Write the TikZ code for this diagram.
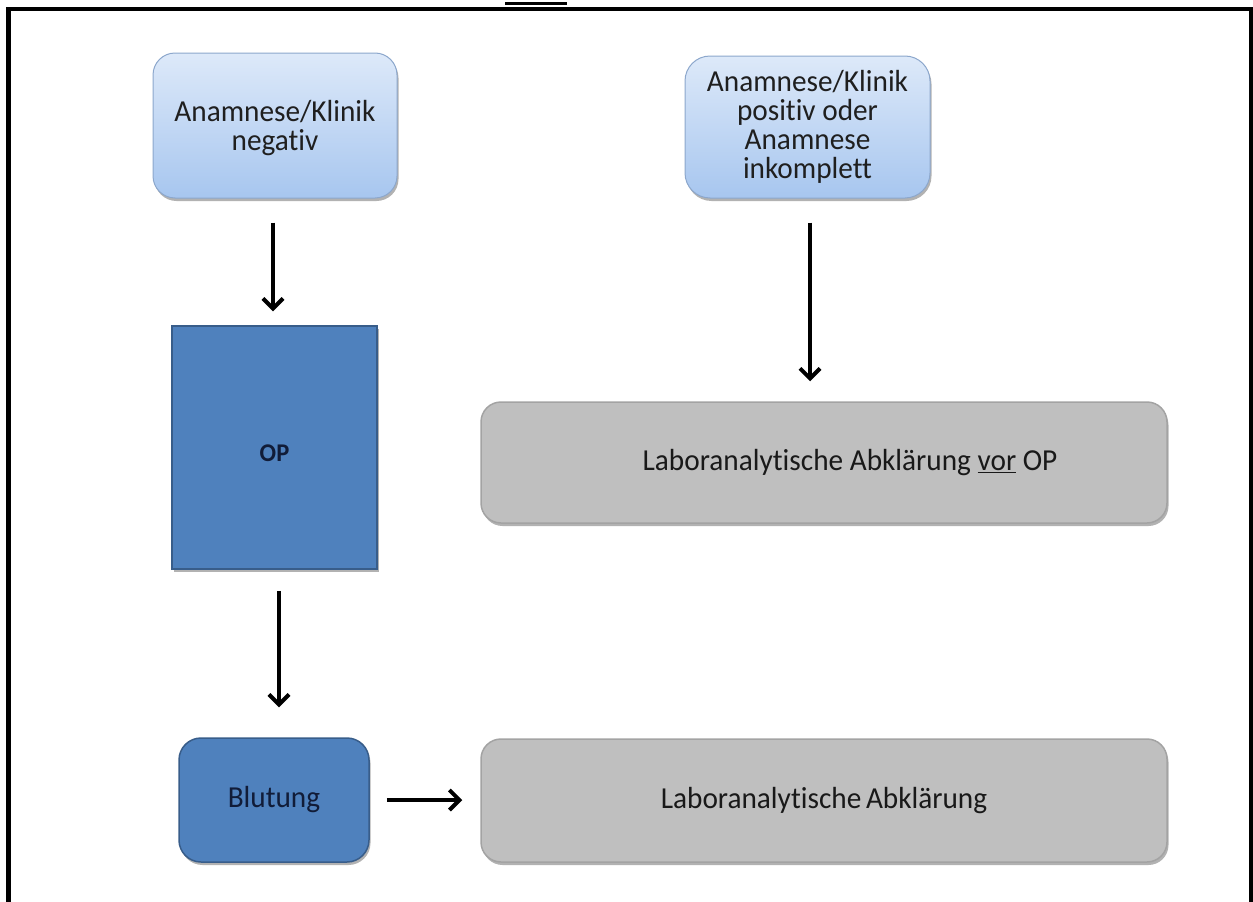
\documentclass[tikz,border=0pt]{standalone}
\usepackage{fontspec}
\setmainfont{Carlito}[Ligatures=NoCommon,FakeStretch=0.96]
\usetikzlibrary{arrows.meta,shadows}
\definecolor{boxblue}{HTML}{4F81BD}
\definecolor{boxblueline}{HTML}{385D8A}
\definecolor{lighttop}{HTML}{DDE9F9}
\definecolor{lightbot}{HTML}{A7C6EF}
\definecolor{lightline}{HTML}{8CA7CC}
\definecolor{grayfill}{HTML}{BFBFBF}
\definecolor{grayline}{HTML}{A3A3A3}
\definecolor{navytext}{HTML}{111C38}
\begin{document}
\begin{tikzpicture}[x=1pt,y=-1pt,
  shadowed/.style={drop shadow={shadow xshift=1.5pt,shadow yshift=-3pt,opacity=0.3,fill=black}},
  lightbox/.style={shadowed,draw=lightline,line width=1pt,rounded corners=22pt,
    top color=lighttop,bottom color=lightbot,inner sep=0pt,align=center,
    text=black!88,font=\fontsize{30.5}{29}\selectfont},
  bluebox/.style={shadowed,draw=boxblueline,line width=1.5pt,fill=boxblue,inner sep=0pt,
    align=center,text=navytext},
  graybox/.style={shadowed,draw=grayline,line width=1.5pt,fill=grayfill,rounded corners=20pt,
    inner sep=0pt,minimum width=686pt,text=black!90,font=\fontsize{30.5}{29}\selectfont},
  arr/.style={-{Straight Barb[length=10pt,width=20pt,line width=4pt]},line width=4pt,black}
]
\useasboundingbox (0,0) rectangle (1253,902);
% frame
\draw[line width=4.5pt] (8.5,902) -- (8.5,9) -- (1251,9) -- (1251,902);
\draw[line width=3pt] (505,3) -- (567,3);
% nodes
\node[lightbox,minimum width=244pt,minimum height=145pt] (A) at (275,125.5)
  {\rule{0pt}{27pt}Anamnese/Klinik\\negativ};
\node[lightbox,rounded corners=25pt,minimum width=245pt,minimum height=142pt] (B) at (807.5,127)
  {Anamnese/Klinik\\positiv oder\\Anamnese\\inkomplett};
\node[bluebox,minimum width=205pt,minimum height=243pt,font=\bfseries\fontsize{25.5}{25}\selectfont] (OP) at (274.5,447.5) {\rule{0pt}{28pt}OP};
\node[bluebox,rounded corners=22pt,minimum width=190pt,minimum height=124pt,font=\fontsize{30.5}{29}\selectfont] (BL) at (274,800) {Blutung};
\node[graybox,minimum height=121pt] (G1) at (824,462.5)
  {\hspace*{52pt}Laboranalytische Abklärung \underline{vor} OP};
\node[graybox,minimum height=123pt] (G2) at (824,800.5)
  {Laboranalytische\hspace{-2pt} Abklärung};
% arrows
\draw[arr,shorten <=24pt,shorten >=14pt] ([xshift=-2pt]A.south) -- ([xshift=-1.5pt]OP.north);
\draw[arr,shorten <=24pt,shorten >=20pt] ([xshift=2.5pt]B.south) -- ([xshift=2.5pt]B.south |- G1.north);
\draw[arr,shorten <=21pt,shorten >=30pt] ([xshift=4.5pt]OP.south) -- ([xshift=5pt]BL.north);
\draw[arr,shorten <=17pt,shorten >=18pt] (BL.east) -- (BL.east -| G2.west);
\end{tikzpicture}
\end{document}
